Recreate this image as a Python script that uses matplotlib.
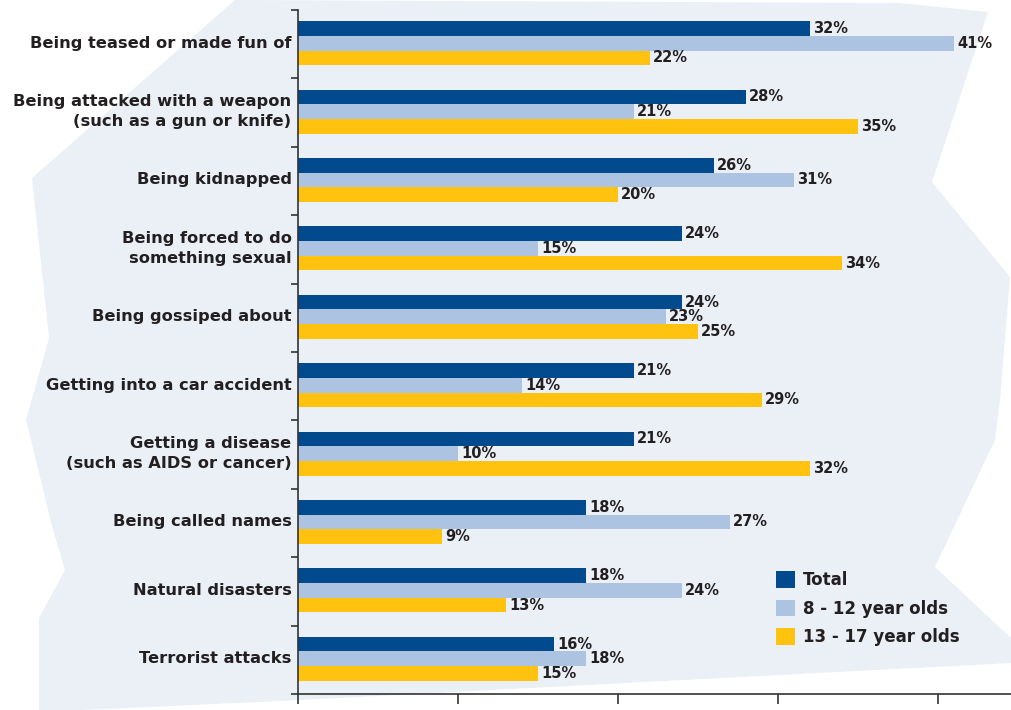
import matplotlib
matplotlib.use("Agg")
import matplotlib.pyplot as plt
from matplotlib.patches import Polygon, Patch
from matplotlib import font_manager
import numpy as np

categories = [
    "Being teased or made fun of",
    "Being attacked with a weapon\n(such as a gun or knife)",
    "Being kidnapped",
    "Being forced to do\nsomething sexual",
    "Being gossiped about",
    "Getting into a car accident",
    "Getting a disease\n(such as AIDS or cancer)",
    "Being called names",
    "Natural disasters",
    "Terrorist attacks",
]
series_names = ["Total", "8 - 12 year olds", "13 - 17 year olds"]
total = [32, 28, 26, 24, 24, 21, 21, 18, 18, 16]
age_8_12 = [41, 21, 31, 15, 23, 14, 10, 27, 24, 18]
age_13_17 = [22, 35, 20, 34, 25, 29, 32, 9, 13, 15]
x_ticks = [0, 10, 20, 30, 40]

colors = ["#004a8d", "#adc3e2", "#ffc30f"]
bg_color = "#ebf0f7"
text_color = "#231f20"

installed = {f.name for f in font_manager.fontManager.ttflist}
font = [f for f in ["Liberation Sans Narrow", "DejaVu Sans Condensed", "DejaVu Sans"] if f in installed]

W, H = 1011, 710
fig = plt.figure(figsize=(W / 100, H / 100), dpi=100)

# background shape (pixel coordinates, y downward)
bg_shape = [(235, 0), (900, 3), (988, 12), (932, 182), (1010, 277), (1000, 400),
            (995, 440), (935, 567), (1011, 638), (1011, 663), (280, 701), (39, 712),
            (39, 618), (65, 570), (53, 530), (26, 420), (49, 338), (32, 178)]
poly = Polygon([(x / W, 1 - y / H) for x, y in bg_shape], closed=True,
               transform=fig.transFigure, facecolor=bg_color, edgecolor="none", zorder=-10)
fig.patches.append(poly)

left, right = 298 / W, 1.0
top, bottom = 1 - 10 / H, 1 - 694 / H
ax = fig.add_axes([left, bottom, right - left, top - bottom])
ax.set_facecolor("none")
ax.set_zorder(1)

n = len(categories)
bar_h = 0.215
centers = np.arange(n) + 0.5
series = [total, age_8_12, age_13_17]
for i, (vals, col) in enumerate(zip(series, colors)):
    y = centers + (i - 1) * bar_h - 0.015
    ax.barh(y, vals, height=bar_h, color=col, edgecolor="none", zorder=2)
    for yy, v in zip(y, vals):
        ax.text(v + 0.2, yy, f"{v}%", ha="left", va="center", fontsize=10.5,
                fontweight="bold", color=text_color, family=font)

xmax = (W - 298) / 16.0
ax.set_xlim(0, xmax)
ax.set_ylim(n, 0)
ax.set_xticks(x_ticks)
ax.set_xticklabels([])
ax.set_yticks(np.arange(n + 1))
ax.set_yticklabels([])
ax.tick_params(axis="x", direction="out", length=7, width=1.2, color="#333333")
ax.tick_params(axis="y", direction="out", length=5, width=1.2, color="#333333")
for s in ["top", "right"]:
    ax.spines[s].set_visible(False)
for s in ["left", "bottom"]:
    ax.spines[s].set_color("#333333")
    ax.spines[s].set_linewidth(1.2)

for c, cat in zip(centers, categories):
    ax.text(-0.4, c - 0.015, cat, ha="right", va="center", fontsize=11.7,
            fontweight="bold", color=text_color, family=font, linespacing=1.4)

handles = [Patch(facecolor=c, edgecolor="none") for c in colors]
leg = fig.legend(handles, series_names, loc="upper left",
                 bbox_to_anchor=(761 / W, 1 - 556 / H), frameon=False,
                 prop={"family": font, "weight": "bold", "size": 12},
                 handlelength=1.15, handleheight=1.15, handletextpad=0.45,
                 labelspacing=0.64)
for t in leg.get_texts():
    t.set_color(text_color)

fig.savefig("out.png", dpi=100)
